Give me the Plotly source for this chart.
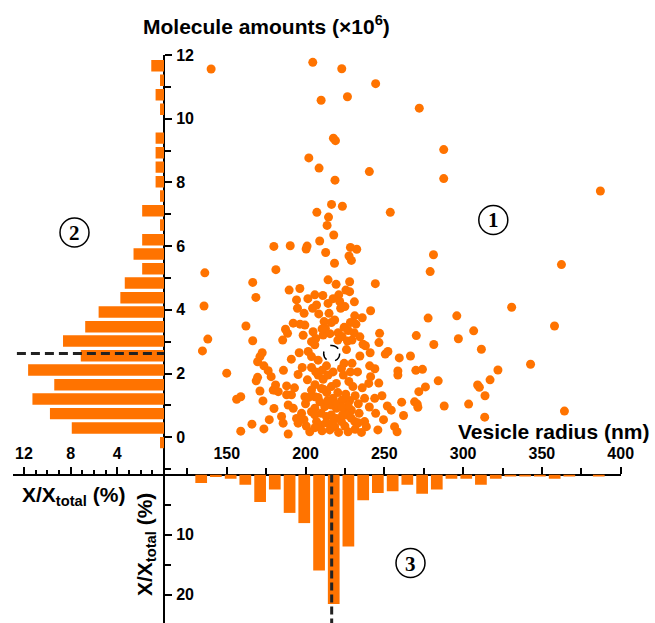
import plotly.graph_objects as go

W, H = 655, 623

# ---------------- data ----------------
# scatter: vesicle radius (nm) vs molecule amounts (x10^6)
radius = [
    140.1, 204.6, 223.0, 244.5, 226.6, 209.9, 217.7, 219.0, 202.1, 208.6, 240.5, 218.7, 216.5, 223.4, 253.8,
    207.2, 214.6, 213.7, 217.9, 209.0, 179.9, 190.3, 201.0, 200.4, 228.5, 232.5, 212.8, 227.6, 229.1, 218.4,
    181.2, 136.1, 166.5, 214.3, 228.0, 244.3, 219.4,
    272.2, 287.7, 287.7, 387.1, 281.2, 279.1, 362.4, 330.8, 358.0, 277.8, 296.0, 270.3, 297.0, 306.7, 281.4,
    311.6, 259.5, 266.6, 342.8, 258.6, 258.6, 270.0, 274.2, 322.1, 317.1, 284.2, 309.2, 310.3, 276.1, 271.9,
    313.9, 261.0, 269.2, 270.9, 271.3, 288.0, 303.5, 262.2, 313.7, 364.3, 256.5, 258.1,
    135.6, 138.0, 134.6, 150.0, 162.2, 166.5, 168.5, 172.5, 171.1, 169.6, 173.6, 176.3, 178.2, 169.6, 168.7,
    171.1, 173.0, 156.3, 158.9, 166.0, 158.9, 173.6, 179.5, 181.0, 225.6,
    228.0, 221.1, 189.6, 196.4, 205.9, 194.3, 207.0, 214.3, 221.7, 222.3, 194.9, 199.1, 208.4, 214.9, 241.3,
    231.2, 211.8, 216.4, 218.5, 192.2, 199.6, 187.3, 188.6, 204.8, 212.6, 211.2, 220.7, 223.2, 227.0, 230.8,
    229.5, 226.6, 247.0, 246.6, 236.5, 238.0, 203.8, 205.9, 201.7, 203.8, 208.0, 250.6, 252.3, 224.5, 229.5,
    222.8, 213.3, 203.8, 197.9, 195.3, 201.2, 208.0, 211.2, 214.3, 240.7, 241.3, 240.1, 230.1, 203.8, 210.1,
    216.4, 219.6, 188.0, 180.6, 182.7, 191.1, 188.0, 199.6, 205.9, 209.1, 217.5, 223.2, 228.0, 237.5, 243.9,
    251.9, 212.2, 216.4, 219.6, 225.9, 229.1, 189.0, 192.2, 205.9, 184.8, 185.8, 194.3, 195.3, 203.8, 205.9,
    207.0, 209.1, 213.3, 216.4, 219.6, 222.8, 218.5, 225.9, 231.2, 237.5, 238.6, 245.9, 202.7, 189.0, 227.0,
    215.4, 254.4,
    210.5, 215.5, 206.5, 224.5, 220.5, 226.0, 210.5, 217.5, 224.0, 227.5, 206.0, 213.5, 220.5, 225.5, 208.0,
    214.0, 220.0, 227.0, 210.0, 223.5, 229.0, 213.0, 206.0, 225.0, 231.5, 210.5, 221.0, 233.5, 234.5, 232.0,
    198.5, 196.0, 200.0, 197.5, 200.5, 233.0, 236.0, 234.0,
    204.5, 211.0, 217.5, 225.0, 231.0, 236.0, 228.5, 234.5, 241.0, 244.0, 246.5, 248.5, 244.5, 249.5, 240.5,
    235.5, 228.5, 231.5, 233.5, 223.0, 217.0, 211.5, 206.5, 202.0, 199.0, 193.0, 191.0, 185.5, 196.5, 201.5,
    180.0, 177.0, 186.0,
]
amount = [
    11.56, 11.77, 11.57, 11.10, 10.69, 10.58, 9.39, 9.31, 8.77, 8.45, 8.34, 8.07, 7.31, 7.25, 7.06,
    7.06, 6.91, 6.65, 6.35, 6.16, 5.99, 6.01, 6.00, 5.91, 5.96, 5.90, 5.80, 5.69, 5.55, 5.46,
    5.26, 5.16, 4.86, 4.94, 4.88, 4.82, 4.80,
    10.33, 9.03, 8.12, 7.73, 5.73, 5.20, 5.42, 4.08, 3.49, 3.74, 3.81, 3.19, 3.09, 3.34, 2.91,
    2.76, 2.49, 2.55, 2.29, 2.08, 1.95, 2.10, 2.13, 2.11, 1.80, 1.77, 1.64, 1.57, 1.58, 1.43,
    1.30, 1.10, 1.11, 1.04, 0.94, 0.98, 1.04, 0.68, 0.63, 0.82, 0.33, 0.17,
    4.12, 3.08, 2.71, 2.01, 3.49, 3.03, 4.39, 2.65, 2.53, 2.37, 2.24, 2.09, 1.90, 1.88, 1.77,
    1.45, 1.14, 1.19, 1.27, 0.41, 0.19, 0.26, 1.48, 1.64, 4.62,
    4.57, 4.47, 4.62, 4.67, 4.47, 4.31, 4.15, 4.20, 4.26, 4.05, 4.05, 3.89, 3.87, 3.89, 3.97,
    3.81, 3.63, 3.60, 3.68, 3.58, 3.52, 3.39, 3.26, 3.31, 3.42, 3.21, 3.28, 3.16, 3.35, 3.28,
    3.05, 3.02, 3.26, 2.97, 2.92, 2.87, 3.00, 2.90, 2.69, 2.53, 2.42, 2.61, 2.69, 2.32, 2.32,
    2.16, 2.24, 2.19, 2.19, 1.97, 1.80, 1.95, 1.82, 1.95, 2.24, 1.90, 1.69, 1.59, 1.48, 1.53,
    1.59, 1.69, 1.61, 1.48, 1.43, 1.33, 1.33, 1.27, 1.27, 1.11, 1.22, 1.17, 1.15, 1.22, 1.22,
    0.98, 0.96, 1.01, 0.91, 0.91, 0.85, 1.01, 0.91, 0.91, 0.65, 0.44, 0.59, 0.44, 0.80, 0.70,
    0.49, 0.38, 0.65, 0.70, 0.59, 0.49, 0.33, 0.70, 0.49, 0.49, 0.33, 0.23, 0.17, 0.10, 0.17,
    0.23, 0.85,
    3.40, 3.25, 3.10, 3.45, 3.05, 2.75, 2.10, 2.05, 1.95, 1.75, 1.65, 1.40, 1.40, 1.35, 1.25,
    1.15, 1.05, 1.00, 0.75, 0.70, 0.60, 0.45, 0.30, 0.35, 0.25, 0.20, 0.15, 1.05, 2.55, 3.55,
    3.20, 2.65, 1.05, 0.75, 0.35, 2.05, 1.55, 0.75,
    4.05, 4.45, 4.35, 4.10, 4.25, 3.75, 3.60, 3.15, 2.65, 2.15, 1.70, 1.30, 0.75, 0.55, 0.95,
    0.15, 2.05, 1.30, 0.45, 0.95, 0.45, 1.50, 2.05, 1.25, 0.55, 1.55, 2.45, 3.05, 3.55, 4.35,
    0.90, 0.55, 2.10,
]

# mean values (dashed guides)
mean_radius = 216.6
mean_amount = 2.63

# left histogram: molecule amount bins (x10^6) and share (%)
amount_bins = [11.66, 11.21, 10.75, 10.30, 9.84, 9.39, 8.93, 8.48, 8.02, 7.57, 7.11, 6.66, 6.20, 5.75,
               5.29, 4.84, 4.38, 3.93, 3.47, 3.02, 2.56, 2.11, 1.65, 1.20, 0.74, 0.29, -0.17]
amount_pct = [1.09, 0.34, 0.72, 0.34, 0.0, 0.72, 0.72, 0.72, 0.72, 0.34, 1.87, 0.34, 1.87, 2.61,
              1.87, 3.36, 3.74, 5.60, 6.75, 8.65, 7.13, 11.64, 9.40, 11.27, 9.77, 7.90, 0.34]

# bottom histogram: radius bins (nm) and share (%)
radius_bins = [133.8, 143.1, 152.5, 161.8, 171.2, 180.5, 189.9, 199.2, 208.6, 217.9, 227.2, 236.6,
               245.9, 255.3, 264.6, 274.0, 283.3, 292.6, 302.0, 311.3, 320.7, 330.0, 339.4, 348.7,
               358.1, 367.4, 376.7, 386.1]
radius_pct = [1.4, 0.4, 0.7, 1.7, 4.6, 2.5, 6.4, 8.1, 16.0, 21.6, 12.0, 4.3, 3.1, 2.8, 1.7, 3.2,
              2.5, 0.7, 0.7, 1.7, 0.7, 0.35, 0.35, 0.35, 0.7, 0.35, 0.0, 0.35]

radius_ticks = [150, 200, 250, 300, 350, 400]
amount_ticks = [0, 2, 4, 6, 8, 10, 12]
left_pct_ticks = [4, 8, 12]
left_pct_mid_ticks = [2, 6, 10]
bottom_pct_ticks = [10, 20]

# ---------------- layout helpers ----------------
def fx(p):
    return p / W

def fy(p):
    return 1 - p / H

ORANGE = "#ff7300"
AX_X = 164.0      # vertical axis pixel x
AX_Y = 474.5      # horizontal axis pixel y
TOP_Y = 55.0
RIGHT_X = 620.7
LEFT_X = 12.7

tickfont = dict(family="Liberation Sans, Arial", size=16, color="black", weight="bold")
labfont = dict(family="Liberation Sans, Arial", size=21, color="black", weight="bold")

fig = go.Figure()

fig.add_trace(go.Bar(x=amount_pct, y=amount_bins, orientation="h", xaxis="x2", yaxis="y",
                     marker=dict(color=ORANGE, line=dict(width=0)), showlegend=False))
fig.add_trace(go.Bar(x=radius_bins, y=radius_pct, xaxis="x", yaxis="y3",
                     marker=dict(color=ORANGE, line=dict(width=0)), showlegend=False))
fig.add_trace(go.Scatter(x=radius, y=amount, mode="markers", xaxis="x", yaxis="y",
                         marker=dict(color=ORANGE, size=9, line=dict(width=0)), showlegend=False,
                         cliponaxis=False))
fig.add_trace(go.Scatter(x=[12.6, 0], y=[mean_amount, mean_amount], mode="lines", xaxis="x2", yaxis="y",
                         line=dict(color="#222222", width=3, dash="9px,5px"), showlegend=False))
fig.add_trace(go.Scatter(x=[mean_radius, mean_radius], y=[0, 24.75], mode="lines", xaxis="x", yaxis="y3",
                         line=dict(color="#222222", width=3, dash="8px,4px"), showlegend=False))

common = dict(showgrid=False, zeroline=False, showline=True, linecolor="black", linewidth=2,
              ticks="outside", ticklen=7, tickwidth=2, tickcolor="black", tickfont=tickfont,
              fixedrange=True, automargin=False)

def minor(dt, ln=6):
    return dict(ticks="outside", dtick=dt, tick0=0, ticklen=ln, tickwidth=2, tickcolor="black", showgrid=False)

fig.update_layout(
    width=W, height=H, autosize=False,
    margin=dict(l=0, r=0, t=0, b=0, pad=0, autoexpand=False),
    paper_bgcolor="white", plot_bgcolor="rgba(0,0,0,0)",
    bargap=0.2,
    xaxis=dict(domain=[fx(AX_X), fx(RIGHT_X)], range=[110.2, 400], anchor="free", position=fy(AX_Y),
               side="top", tickvals=radius_ticks, minor=minor(25), ticklabelstandoff=1, **common),
    yaxis=dict(domain=[fy(AX_Y), fy(TOP_Y)], range=[-1.171, 12], anchor="free", position=fx(AX_X),
               side="right", tickvals=amount_ticks, minor=minor(1), ticklabelstandoff=1, **common),
    xaxis2=dict(domain=[fx(LEFT_X), fx(AX_X)], range=[12.96, 0], anchor="free", position=fy(AX_Y),
                side="top", tickvals=left_pct_ticks, minor=minor(1, 4),
                ticklabelstandoff=1, **common),
    xaxis3=dict(domain=[fx(LEFT_X), fx(AX_X)], range=[12.96, 0], anchor="free", position=fy(AX_Y),
                overlaying="x2", side="top", tickvals=left_pct_mid_ticks, showticklabels=False,
                showline=False, showgrid=False, zeroline=False, ticks="outside", ticklen=7, tickwidth=2,
                tickcolor="black", fixedrange=True, automargin=False),
    yaxis3=dict(domain=[0, fy(AX_Y)], range=[24.75, 0], anchor="free", position=fx(AX_X),
                side="right", tickvals=bottom_pct_ticks, minor=minor(5), ticklabelstandoff=1, **common),
)

# dashed mean circle
fig.add_shape(type="circle", xref="x", yref="y", xsizemode="pixel", ysizemode="pixel",
              xanchor=mean_radius, yanchor=mean_amount, x0=-8, x1=8, y0=-8, y1=8,
              line=dict(color="black", width=1.5, dash="dash"), fillcolor="white", layer="above")

# circled numbers
for (cx, cy, t) in [(493.3, 220.0, "1"), (74.5, 232.5, "2"), (410.5, 563.0, "3")]:
    r = 14.5
    fig.add_shape(type="circle", xref="paper", yref="paper",
                  x0=fx(cx - r), x1=fx(cx + r), y0=fy(cy + r), y1=fy(cy - r),
                  line=dict(color="black", width=1.5), fillcolor="rgba(0,0,0,0)")
    fig.add_annotation(x=fx(cx), y=fy(cy + 0.5), xref="paper", yref="paper", text=t, showarrow=False,
                       font=dict(family="Liberation Serif, DejaVu Serif", size=21, color="black", weight="bold"),
                       xanchor="center", yanchor="middle")

# axis titles
fig.add_annotation(x=fx(266), y=fy(25), xref="paper", yref="paper",
                   text="Molecule amounts (×10<sup>6</sup>)", showarrow=False, font=labfont,
                   xanchor="center", yanchor="middle")
fig.add_annotation(x=fx(553), y=fy(432), xref="paper", yref="paper",
                   text="Vesicle radius (nm)", showarrow=False, font=labfont,
                   xanchor="center", yanchor="middle")
fig.add_annotation(x=fx(73), y=fy(496), xref="paper", yref="paper",
                   text="X/X<sub>total</sub> (%)", showarrow=False, font=labfont,
                   xanchor="center", yanchor="middle")
fig.add_annotation(x=fx(146), y=fy(545), xref="paper", yref="paper",
                   text="X/X<sub>total</sub> (%)", showarrow=False, font=labfont, textangle=-90,
                   xanchor="center", yanchor="middle")

fig.write_html("out.html")
